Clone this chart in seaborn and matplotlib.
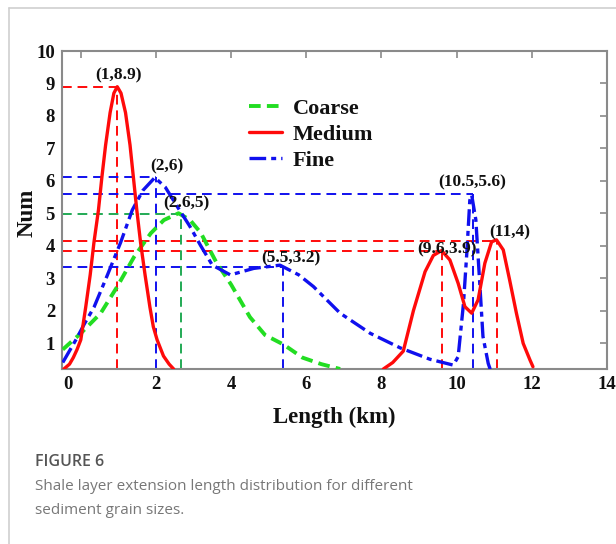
import matplotlib
matplotlib.use("Agg")
import matplotlib.pyplot as plt
import matplotlib.transforms as mtransforms
from matplotlib.lines import Line2D
import seaborn as sns
import pandas as pd

# ---------------- data ----------------
coarse_x = [-0.48, 0.0, 0.53, 0.97, 1.42, 1.86, 2.21, 2.6, 2.9, 3.19, 3.6, 4.0, 4.5, 4.9, 5.4, 5.9, 6.4, 6.9]
coarse_y = [0.8, 1.3, 1.92, 2.74, 3.66, 4.38, 4.79, 5.0, 4.8, 4.4, 3.5, 2.8, 1.8, 1.25, 0.95, 0.55, 0.35, 0.2]

medium_x = [-0.45, -0.3, -0.2, -0.1, 0.0, 0.13, 0.25, 0.35, 0.47, 0.56, 0.66, 0.78, 0.88, 0.97,
            1.07, 1.19, 1.31, 1.40, 1.49, 1.59, 1.71, 1.84, 1.93, 2.03, 2.2, 2.35, 2.47,
            8.05, 8.3, 8.58, 8.85, 9.16, 9.38, 9.6, 9.82, 10.04, 10.22, 10.4, 10.57, 10.75,
            10.93, 11.06, 11.24, 11.41, 11.59, 11.77, 11.95, 12.03]
medium_y = [0.2, 0.35, 0.55, 0.8, 1.1, 2.1, 3.1, 4.1, 5.1, 6.1, 7.1, 8.1, 8.7, 8.9,
            8.7, 8.1, 7.1, 6.1, 5.1, 4.1, 3.1, 2.1, 1.5, 1.1, 0.6, 0.35, 0.2,
            0.2, 0.4, 0.75, 2.0, 3.2, 3.7, 3.85, 3.56, 2.84, 2.12, 1.92, 2.33, 3.46,
            4.12, 4.18, 3.87, 2.94, 1.92, 0.99, 0.48, 0.27]

fine_x = [-0.48, -0.13, 0.1, 0.35, 0.71, 1.06, 1.37, 1.65, 1.97, 2.25, 2.57, 2.9, 3.19, 3.5,
          3.98, 4.6, 5.3, 5.8, 6.19, 6.9, 7.7, 8.5, 9.29, 9.91, 10.04, 10.18, 10.27,
          10.35, 10.4, 10.51, 10.62, 10.7, 10.84, 10.92]
fine_y = [0.4, 1.1, 1.6, 2.1, 3.1, 4.1, 5.1, 5.7, 6.1, 5.8, 5.2, 4.6, 4.0, 3.4,
          3.1, 3.3, 3.4, 3.1, 2.74, 1.92, 1.3, 0.85, 0.5, 0.32, 0.58, 2.2, 3.77,
          5.4, 5.56, 4.8, 2.74, 1.2, 0.37, 0.1]

# reference (drop) lines: (x of peak, y of peak)
ref_red = [(0.97, 8.88), (9.62, 3.85), (11.07, 4.15)]
ref_blue = [(2.0, 6.12), (5.38, 3.35), (10.43, 5.6)]
ref_green = [(2.67, 4.98)]

# peak annotations
ann_text = ["(1,8.9)", "(2,6)", "(2.6,5)", "(5.5,3.2)", "(9.6,3.9)", "(10.5,5.6)", "(11,4)"]
ann_x = [1.0, 2.3, 2.8, 5.6, 9.75, 10.4, 11.4]
ann_y = [9.25, 6.45, 5.3, 3.6, 3.9, 5.95, 4.4]

x_ticks = [0, 2, 4, 6, 8, 10, 12, 14]
y_ticks = [1, 2, 3, 4, 5, 6, 7, 8, 9, 10]

# ---------------- styling ----------------
sns.set_theme(style="white")
plt.rcParams["font.family"] = ["Liberation Serif", "DejaVu Serif"]

RED = "#ff0a0a"
BLUE = "#1010ee"
GREEN = "#22dd22"
GREEN_REF = "#22aa55"
SPINE = "#8a8a8a"

fig = plt.figure(figsize=(6.16, 5.44), dpi=100)
ax = fig.add_axes([62 / 616, 1 - 369 / 544, (607 - 62) / 616, (369 - 51) / 544])

XMIN, XMAX, YMIN, YMAX = -0.5, 14, 0.2, 10

# drop lines
ref_kw = dict(linewidth=1.4, dashes=(5, 3), zorder=1)
for col, refs in ((RED, ref_red), (BLUE, ref_blue), (GREEN_REF, ref_green)):
    for px, py in refs:
        ax.plot([XMIN, px], [py, py], color=col, **ref_kw)
        ax.plot([px, px], [YMIN, py], color=col, **ref_kw)

df_c = pd.DataFrame({"x": coarse_x, "y": coarse_y})
df_m = pd.DataFrame({"x": medium_x, "y": medium_y})
df_f = pd.DataFrame({"x": fine_x, "y": fine_y})

# medium split into two bumps so no line joins them
split = medium_x.index(8.05)
sns.lineplot(data=df_c, x="x", y="y", ax=ax, color=GREEN, linewidth=2.8,
             linestyle=(0, (3, 1.6)), sort=False, estimator=None, label="Coarse", zorder=3)
sns.lineplot(data=df_m.iloc[:split], x="x", y="y", ax=ax, color=RED, linewidth=2.4,
             sort=False, estimator=None, label="Medium", zorder=4)
sns.lineplot(data=df_m.iloc[split:], x="x", y="y", ax=ax, color=RED, linewidth=2.4,
             sort=False, estimator=None, zorder=4)
sns.lineplot(data=df_f, x="x", y="y", ax=ax, color=BLUE, linewidth=2.4,
             linestyle=(0, (5, 1.5, 1.5, 1.5)), sort=False, estimator=None, label="Fine", zorder=3)

for t, x, y in zip(ann_text, ann_x, ann_y):
    ax.text(x, y, t, ha="center", va="center", fontsize=12.5, fontweight="bold",
            color="#111111", zorder=6)

ax.set_xlim(XMIN, XMAX)
ax.set_ylim(YMIN, YMAX)
ax.set_xticks(x_ticks)
ax.set_yticks(y_ticks)
ax.set_xticklabels([str(v) for v in x_ticks])
ax.set_yticklabels([str(v) for v in y_ticks])
ax.tick_params(axis="both", direction="in", length=5, width=1.2, color=SPINE,
               top=True, right=True, labelsize=13.5, pad=5)
for lab in ax.get_xticklabels() + ax.get_yticklabels():
    lab.set_fontweight("bold")
    lab.set_color("#111111")
# the "0" label sits left of its tick in the original
zero = ax.get_xticklabels()[0]
zero.set_transform(zero.get_transform() + mtransforms.ScaledTranslation(-13 / 100, 0, fig.dpi_scale_trans))

for s in ax.spines.values():
    s.set_color(SPINE)
    s.set_linewidth(1.5)

ax.set_xlabel("Length (km)", fontsize=16.5, fontweight="bold", color="#111111", labelpad=10)
ax.set_ylabel("Num", fontsize=16.5, fontweight="bold", color="#111111")
ax.yaxis.set_label_coords(-0.044, 0.49)

leg = ax.legend(loc="upper left", bbox_to_anchor=(0.326, 0.88), frameon=False,
                prop={"family": "Liberation Serif", "weight": "bold", "size": 16},
                handlelength=1.5, handletextpad=0.5, labelspacing=0.25, borderaxespad=0)
for t in leg.get_texts():
    t.set_color("#111111")

# outer frame of the page
fig.add_artist(Line2D([9 / 616, 1], [1 - 8 / 544, 1 - 8 / 544], transform=fig.transFigure,
                      color="#cfcfcf", linewidth=1.2))
fig.add_artist(Line2D([9 / 616, 9 / 616], [0, 1 - 8 / 544], transform=fig.transFigure,
                      color="#cfcfcf", linewidth=1.2))

# caption
fig.text(35 / 616, 1 - 462 / 544, "FIGURE 6", ha="left", va="center", fontsize=11.5,
         family=["Open Sans", "DejaVu Sans"], fontweight="semibold", color="#555555")
fig.text(35 / 616, 1 - 487 / 544, "Shale layer extension length distribution for different",
         ha="left", va="center", fontsize=11, family=["Open Sans", "DejaVu Sans"], color="#777777")
fig.text(35 / 616, 1 - 511 / 544, "sediment grain sizes.",
         ha="left", va="center", fontsize=11, family=["Open Sans", "DejaVu Sans"], color="#777777")

fig.savefig("out.png", dpi=100, facecolor="white")
